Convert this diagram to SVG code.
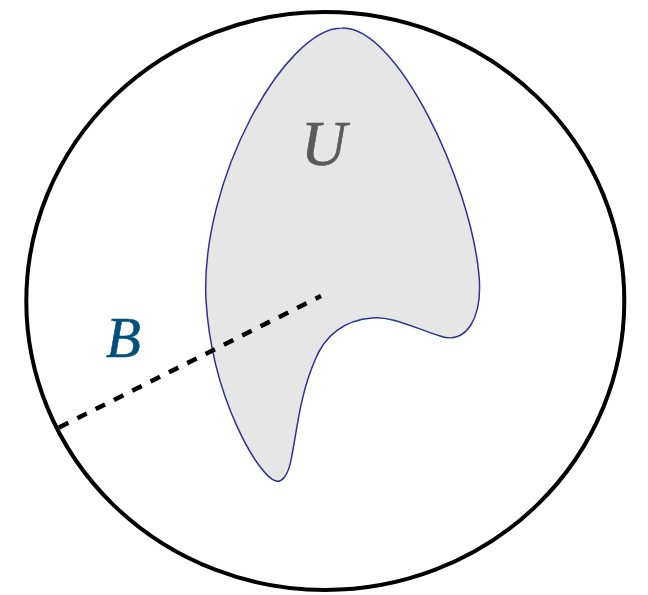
<svg xmlns="http://www.w3.org/2000/svg" width="648" height="595" viewBox="0 0 648 595">
<style>
.lbl{font-family:"Liberation Serif","DejaVu Serif",serif;font-style:italic;stroke-width:0.6}
</style>
<rect width="648" height="595" fill="#ffffff"/>
<g id="ball">
<ellipse cx="325.3" cy="301" rx="299" ry="289" fill="none" stroke="#000" stroke-width="4"/>
</g>
<g id="U">
<path d="M 342 28 C 397 26, 470 180, 479 275 C 483 320, 465 345, 440 336 C 410 326, 390 316, 372 318 C 345 320, 325 335, 315 360 C 300 395, 297 430, 292 455 C 288 480, 280 482, 276 481 C 260 478, 212 400, 206 300 C 200 180, 285 28, 342 28 Z" fill="#e6e6e6" stroke="#2e3192" stroke-width="1.5"/>
<text class="lbl" x="301" y="165" font-size="63" fill="#5a5a5a" stroke="#5a5a5a">U</text>
</g>
<g id="connectors">
<line x1="59" y1="427.5" x2="321" y2="296" stroke="#000" stroke-width="4.5" stroke-dasharray="10.5 10"/>
</g>
<g id="B">
<text class="lbl" x="106" y="357" font-size="57" fill="#00507f" stroke="#00507f">B</text>
</g>
</svg>
